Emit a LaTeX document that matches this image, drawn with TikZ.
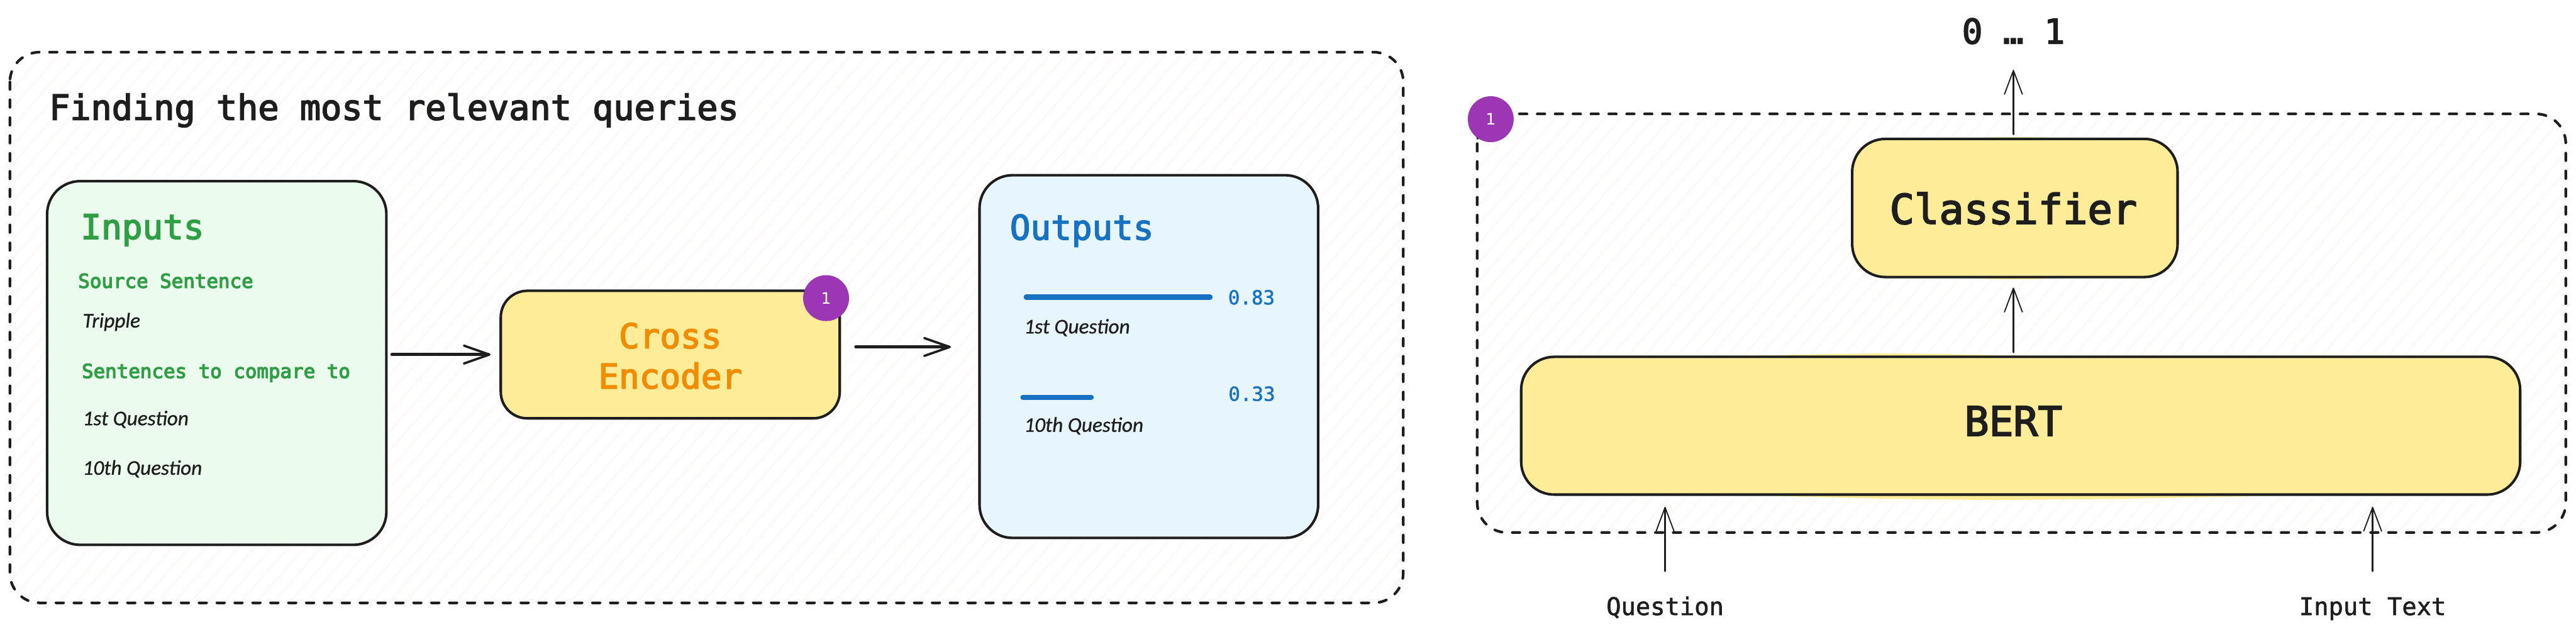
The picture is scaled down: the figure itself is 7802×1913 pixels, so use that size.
\documentclass[tikz,border=0pt]{standalone}
\usepackage{fontspec}
\usetikzlibrary{arrows.meta}
\setmainfont{DejaVu Sans Mono}[FakeBold=3]
\newfontfamily\medmono{DejaVu Sans Mono}[FakeBold=1.5]
\newfontfamily\semimono{DejaVu Sans Mono}[FakeBold=4]
\newfontfamily\badgefont{DejaVu Sans}
\newfontfamily\handfont{Carlito}[ItalicFont=* Italic,ItalicFeatures={FakeBold=0.8}]
\definecolor{inkc}{HTML}{1E1E1E}
\definecolor{greenc}{HTML}{2F9E44}
\definecolor{greenf}{HTML}{EBFBEE}
\definecolor{bluec}{HTML}{1971C2}
\definecolor{bluef}{HTML}{E7F5FF}
\definecolor{yellowf}{HTML}{FFEC99}
\definecolor{orangec}{HTML}{F08C00}
\definecolor{purplec}{HTML}{9C36B5}
\definecolor{hatchc}{HTML}{FFF5F5}
\newcommand{\fs}[1]{\fontsize{#1}{#1}\selectfont}
\tikzset{
  x=0.01cm,y=-0.01cm,
  frame/.style={draw=inkc,line width=2.3pt,line cap=round,dash pattern=on 6.5pt off 8.9pt,rounded corners=0.9cm},
  card/.style={draw=inkc,line width=2.2pt,rounded corners=1cm,inner sep=0pt},
  labelt/.style={anchor=base west,inner sep=0pt,text=inkc},
  labelc/.style={anchor=base,inner sep=0pt,text=inkc},
  hand/.style={labelt,font={\handfont\itshape\fs{18}}},
  small/.style={labelt,text=greenc,font={\semimono\fs{16.7}}},
  score/.style={labelt,text=bluec,font={\medmono\fs{16.7}}},
  badge/.style={circle,fill=purplec,text=white,minimum size=1.39cm,inner sep=0pt,font={\badgefont\fs{13.6}}},
  heavy/.style={draw=inkc,line width=2.8pt,line cap=round,line join=round,-{Straight Barb[length=21.9pt,width=15.4pt,line width=2pt,round]}},
  thin arrow/.style={draw=inkc,line width=1.4pt,line cap=round,line join=round,-{Straight Barb[length=20.5pt,width=15.4pt,line width=1pt,round]}},
  bar/.style={draw=bluec,line width=4.4pt,line cap=round},
  hatchline/.style={draw=hatchc,line width=0.85pt},
}
\begin{document}
\begin{tikzpicture}
\useasboundingbox (0,0) rectangle (7802,1913);
\fill[white] (0,0) rectangle (7802,1913);
% left frame
\begin{scope}
\clip[rounded corners=0.9cm] (30,158) rectangle (4250,1826);
\foreach \i in {-1700,-1650,...,4300} \draw[hatchline] (\i,1913) -- (\i+1674,0);
\end{scope}
\draw[frame] (30,158) rectangle (4250,1826);
% right frame
\begin{scope}
\clip[rounded corners=0.9cm] (4474,345) rectangle (7771,1613);
\foreach \i in {2800,2850,...,7800} \draw[hatchline] (\i,1913) -- (\i+1674,0);
\end{scope}
\draw[frame] (4474,345) rectangle (7771,1613);

\node[labelt,font=\fs{29.9}] (title) at (148,363) {Finding the most relevant queries};

% inputs
\node[card,fill=greenf,minimum width=10.27cm,minimum height=11.01cm] (inputs) at (656.5,1099.5) {};
\node[labelt,text=greenc,font={\fs{29.4}}] (inputst) at (244,724) {Inputs};
\node[small] (srcs) at (236,872) {Source Sentence};
\node[hand] (trip) at (250,992) {Tripple};
\node[small] (sent) at (247,1145) {Sentences to compare to};
\node[hand] (qa) at (250,1288) {1st Question};
\node[hand] (qb) at (250,1438) {10th Question};

% cross encoder
\node[card,fill=yellowf,minimum width=10.26cm,minimum height=3.86cm,rounded corners=0.8cm] (cross) at (2030,1074) {};
\node[inner sep=0pt,text=orangec,align=center,font=\fs{29.4}] (crosst) at (2030,1078) {Cross\\[0.18em]Encoder};
\node[badge] (badgea) at (2502,903) {1};

% outputs
\node[card,fill=bluef,minimum width=10.25cm,minimum height=10.98cm] (outputs) at (3479.5,1080) {};
\node[labelt,text=bluec,font={\fs{29.4}}] (outt) at (3058,726) {Outputs};
\coordinate (b1a) at (3108,900); \coordinate (b1b) at (3665,900);
\draw[bar] (b1a) -- (b1b);
\node[score] (sa) at (3719,922) {0.83};
\node[hand] (oa) at (3101,1010) {1st Question};
\coordinate (b2a) at (3098,1203); \coordinate (b2b) at (3305,1203);
\draw[bar] (b2a) -- (b2b);
\node[score] (sb) at (3720,1214) {0.33};
\node[hand] (ob) at (3101,1308) {10th Question};

\coordinate (lvl) at (0,1051);
\draw[heavy,shorten <=3.7pt,shorten >=7.7pt] (inputs.east |- cross.west) -- (cross.west);
\draw[heavy,shorten <=12.8pt,shorten >=23.6pt] (cross.east |- lvl) -- (outputs.west |- lvl);

% right part
\fill[yellowf] (5800,425) .. controls (6100,412) .. (6400,425) -- (6400,835) .. controls (6100,850) .. (5800,835) -- cycle;
\fill[yellowf] (5060,1085) .. controls (5700,1066) .. (6400,1085) -- (7400,1490) .. controls (6000,1522) .. (5000,1490) -- cycle;
\node[card,fill=yellowf,minimum width=9.85cm,minimum height=4.18cm] (clf) at (6102.5,630) {};
\node[labelc,font=\fs{35.4}] (clft) at (6098,678) {Classifier};
\node[card,fill=yellowf,minimum width=30.24cm,minimum height=4.17cm] (bert) at (6120,1289.5) {};
\node[labelc,font=\fs{35}] (bertt) at (6098,1320) {BERT};
\node[badge] (badgeb) at (4515,361) {1};
\node[labelc,font=\fs{29.4}] (res) at (6098,132) {0 … 1};
\node[labelc,font={\medmono\fs{21}}] (qin) at (5043,1863) {Question};
\node[labelc,font={\medmono\fs{21}}] (tin) at (7186,1863) {Input Text};

\coordinate (c) at (6098,0);
\coordinate (qs) at (5043,1730); \coordinate (ts) at (7186,1730);
\draw[thin arrow,shorten <=2.8pt,shorten >=22pt] (c |- clf.north) -- (c |- res.south);
\draw[thin arrow,shorten <=2.8pt,shorten >=8pt] (c |- bert.north) -- (c |- clf.south);
\draw[thin arrow,shorten >=9.4pt] (qs) -- (bert.south -| qs);
\draw[thin arrow,shorten >=9.4pt] (ts) -- (bert.south -| ts);
\end{tikzpicture}
\end{document}
